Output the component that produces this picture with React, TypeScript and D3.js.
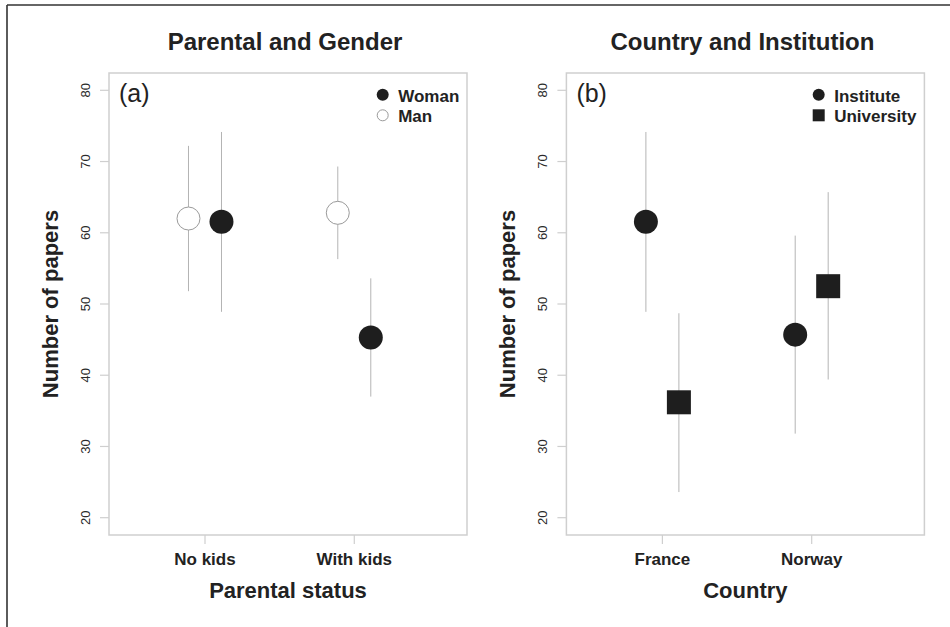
import React from "react";
import * as d3 from "d3";

const yTicks = [20, 30, 40, 50, 60, 70, 80];

const parentalGroups = ["No kids", "With kids"];
const manMean = [62.0, 62.8];
const manLow = [51.8, 56.3];
const manHigh = [72.2, 69.3];
const womanMean = [61.55, 45.3];
const womanLow = [48.9, 37.0];
const womanHigh = [74.15, 53.6];

const countries = ["France", "Norway"];
const instituteMean = [61.55, 45.7];
const instituteLow = [48.9, 31.8];
const instituteHigh = [74.15, 59.6];
const universityMean = [36.2, 52.5];
const universityLow = [23.6, 39.4];
const universityHigh = [48.7, 65.7];

const W = 950;
const H = 627;
const FONT = "'Liberation Sans', Arial, Helvetica, sans-serif";
const DARK = "#1e1e1e";
const GRAY = "#b4b4b4";
const BOX = "#cfcfcf";

type Series = {
  name: string;
  mean: number[];
  low: number[];
  high: number[];
  offset: number;
  shape: "circle" | "open" | "square";
};

function Panel(props: {
  dx: number;
  title: string;
  tag: string;
  xLabel: string;
  cats: string[];
  series: Series[];
  legend: Series[];
  legendInset: number;
}) {
  const { dx, title, tag, xLabel, cats, series, legend, legendInset } = props;
  const left = 109 + dx;
  const right = 467 + dx;
  const top = 73;
  const bottom = 535;
  const y = d3.scaleLinear().domain([17.57, 82.43]).range([bottom, top]);
  const x = d3.scaleLinear().domain([0.357, 2.755]).range([left, right]);
  const cx = (left + right) / 2;

  const mark = (s: Series, px: number, py: number, r: number, key: string) => {
    if (s.shape === "square")
      return <rect key={key} x={px - r} y={py - r} width={2 * r} height={2 * r} fill={DARK} />;
    if (s.shape === "open")
      return <circle key={key} cx={px} cy={py} r={r - 0.5} fill="#fff" stroke="#9a9a9a" strokeWidth={1} />;
    return <circle key={key} cx={px} cy={py} r={r} fill={DARK} />;
  };

  return (
    <g>
      <text x={285 + dx} y={50} textAnchor="middle" fontFamily={FONT} fontWeight="bold" fontSize={24} fill="#222">
        {title}
      </text>
      <rect x={left} y={top} width={right - left} height={bottom - top} fill="none" stroke={BOX} strokeWidth={1.5} />
      {yTicks.map((t) => (
        <g key={t}>
          <line x1={left} x2={left - 9} y1={y(t)} y2={y(t)} stroke={BOX} strokeWidth={1.2} />
          <text
            transform={`translate(${89.5 + dx},${y(t)}) rotate(-90)`}
            textAnchor="middle"
            fontFamily={FONT}
            fontSize={13}
            fill="#2a2a2a"
          >
            {t}
          </text>
        </g>
      ))}
      {cats.map((c, i) => (
        <g key={c}>
          <line x1={x(i + 1)} x2={x(i + 1)} y1={bottom} y2={bottom + 9} stroke={BOX} strokeWidth={1.2} />
          <text x={x(i + 1)} y={565} textAnchor="middle" fontFamily={FONT} fontWeight="bold" fontSize={17} fill="#222">
            {c}
          </text>
        </g>
      ))}
      <text x={cx} y={598} textAnchor="middle" fontFamily={FONT} fontWeight="bold" fontSize={22} fill="#222">
        {xLabel}
      </text>
      <text
        transform={`translate(${57.5 + dx},${(top + bottom) / 2}) rotate(-90)`}
        textAnchor="middle"
        fontFamily={FONT}
        fontWeight="bold"
        fontSize={22}
        fill="#222"
      >
        Number of papers
      </text>
      <text x={left + 10} y={102} fontFamily={FONT} fontSize={25} fill="#222">
        {tag}
      </text>
      {series.map((s) =>
        s.mean.map((m, i) => {
          const px = x(i + 1 + s.offset);
          return (
            <g key={s.name + i}>
              <line x1={px} x2={px} y1={y(s.low[i])} y2={y(s.high[i])} stroke={GRAY} strokeWidth={1} />
              {mark(s, px, y(m), 12, "m")}
            </g>
          );
        })
      )}
      {legend.map((s, i) => {
        const ly = 94.7 + i * 20.6;
        const lx = right - legendInset;
        return (
          <g key={"lg" + s.name}>
            {mark(s, lx, ly, 6, "l")}
            <text x={lx + 15.5} y={ly + 6.8} fontFamily={FONT} fontWeight="bold" fontSize={17} fill="#222">
              {s.name}
            </text>
          </g>
        );
      })}
    </g>
  );
}

export default function App() {
  const off = 0.1105;
  const left: Series[] = [
    { name: "Man", mean: manMean, low: manLow, high: manHigh, offset: -off, shape: "open" },
    { name: "Woman", mean: womanMean, low: womanLow, high: womanHigh, offset: off, shape: "circle" },
  ];
  const leftLegend = [left[1], left[0]];
  const right: Series[] = [
    { name: "Institute", mean: instituteMean, low: instituteLow, high: instituteHigh, offset: -off, shape: "circle" },
    { name: "University", mean: universityMean, low: universityLow, high: universityHigh, offset: off, shape: "square" },
  ];
  return (
    <svg width={W} height={H} style={{ position: "absolute", left: 0, top: 0, background: "#fff" }}>
      <rect x={0} y={0} width={W} height={H} fill="#fff" />
      <line x1={7} x2={W} y1={5} y2={5} stroke="#333" strokeWidth={1.6} />
      <line x1={7} x2={7} y1={5} y2={H} stroke="#333" strokeWidth={1.6} />
      <Panel
        dx={0}
        title="Parental and Gender"
        tag="(a)"
        xLabel="Parental status"
        cats={parentalGroups}
        series={left}
        legend={leftLegend}
        legendInset={84.3}
      />
      <Panel
        dx={457.4}
        title="Country and Institution"
        tag="(b)"
        xLabel="Country"
        cats={countries}
        series={right}
        legend={right}
        legendInset={105.7}
      />
    </svg>
  );
}
